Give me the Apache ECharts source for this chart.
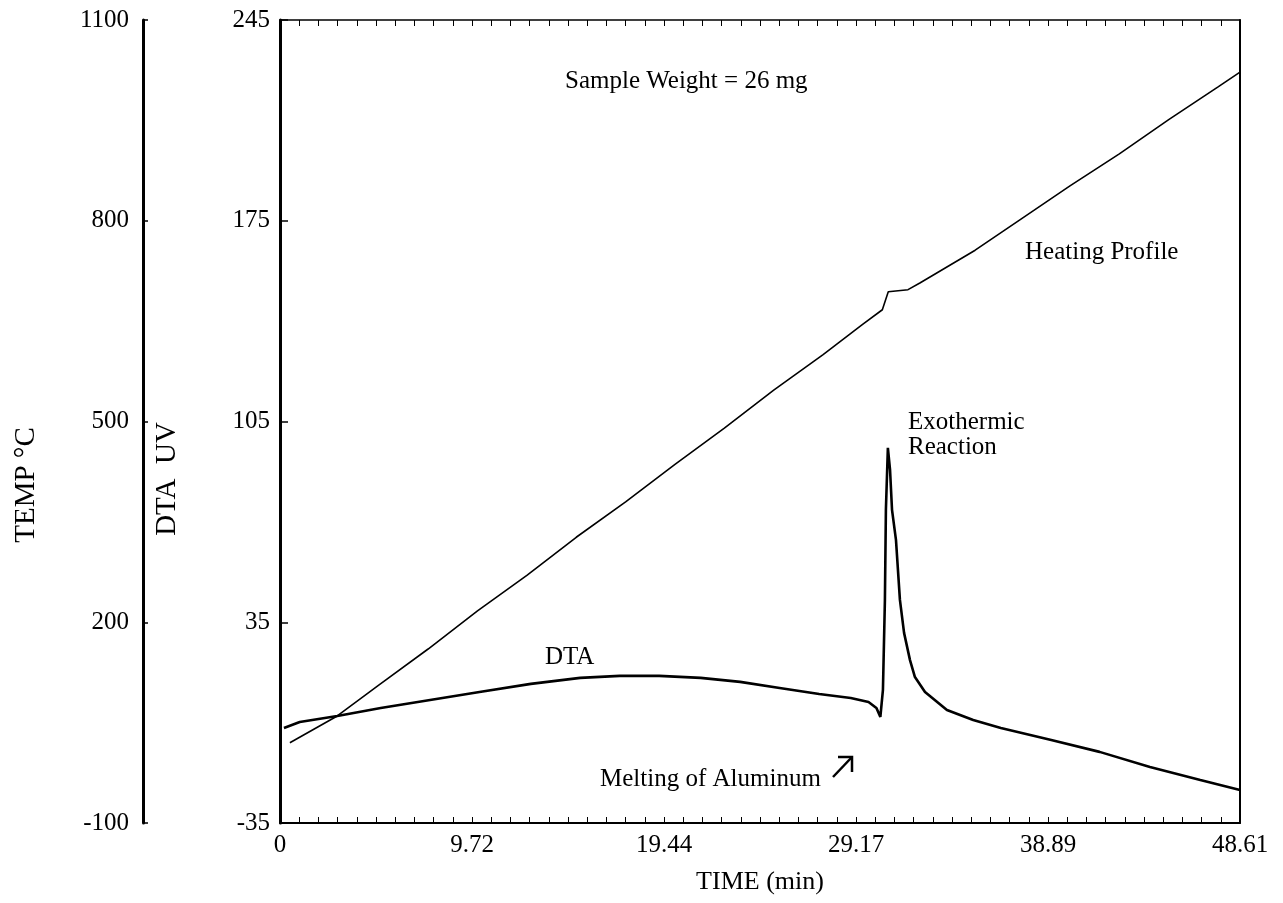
<!DOCTYPE html>
<html>
<head>
<meta charset="utf-8">
<script src="https://cdn.jsdelivr.net/npm/echarts@6/dist/echarts.min.js"></script>
<style>
  html, body { margin: 0; padding: 0; background: #fff; }
  #chart { width: 1283px; height: 903px; }
</style>
</head>
<body>
<div id="chart"></div>
<script>
// x tick labels (min)
var timeTicks = ['0', '9.72', '19.44', '29.17', '38.89', '48.61'];

// DTA trace: time (min) / signal (uV)
var dtaTime = [0.2, 1.0, 2.9, 5.1, 7.6, 10.1, 12.7, 15.2, 17.2, 19.2, 21.3, 23.3, 25.3, 27.3, 28.9, 29.8, 30.2, 30.4,
    30.53, 30.63, 30.68, 30.78, 30.89, 30.99, 31.19, 31.39, 31.6, 31.9, 32.15, 32.66, 33.77, 35.1, 36.5, 39.0, 41.5, 44.05, 46.6, 48.61];
var dtaValue = [-1.9, 0.2, 2.3, 5.1, 7.9, 10.7, 13.5, 15.6, 16.3, 16.3, 15.6, 14.2, 12.1, 10.0, 8.6, 7.2, 5.1, 2.0,
    11.4, 42.8, 74.2, 95.8, 88.1, 74.2, 63.7, 42.8, 31.3, 21.8, 15.9, 10.7, 4.4, 0.9, -1.9, -6.0, -10.2, -15.5, -20.0, -23.5];

// heating profile: time (min) / temperature (C)
var heatTime = [0.5, 2.9, 5.0, 7.5, 10.0, 12.5, 15.0, 17.5, 20.0, 22.5, 25.0, 27.5, 29.5, 30.5, 30.8, 31.8, 32.4, 35.2,
    37.5, 40.0, 42.5, 45.0, 47.5, 48.61];
var heatTemp = [20, 60, 106, 160, 217, 270, 327, 380, 436, 490, 547, 600, 645, 667, 694, 697, 707, 756,
    802, 852, 900, 951, 1000, 1022];

function pairs(xs, ys) {
    var out = [];
    for (var i = 0; i < xs.length; i++) out.push([xs[i], ys[i]]);
    return out;
}

var FONT = 'Liberation Serif';
var chart = echarts.init(document.getElementById('chart'));

var tickAxis = {
    min: 0,
    max: 48.61,
    interval: 9.722,
    axisTick: { show: true, inside: true, length: 6, lineStyle: { color: '#000', width: 1 } },
    minorTick: { show: true, splitNumber: 10, length: 6, lineStyle: { color: '#000', width: 1 } },
    splitLine: { show: false },
    minorSplitLine: { show: false }
};

function plain(v) { return String(v); }

var option = {
    backgroundColor: '#fff',
    animation: false,
    textStyle: { fontFamily: FONT, color: '#000' },
    grid: { left: 280, right: 43, top: 20, bottom: 80 },
    xAxis: [
        Object.assign({}, tickAxis, {
            type: 'value',
            position: 'bottom',
            axisLine: { show: true, onZero: false, lineStyle: { color: '#000', width: 2 } },
            axisLabel: {
                show: true, color: '#000', fontFamily: FONT, fontSize: 25, margin: 10,
                formatter: function (v) { return timeTicks[Math.round(v / 9.722)]; }
            },
            name: 'TIME (min)',
            nameLocation: 'middle',
            nameGap: 46,
            nameTextStyle: { color: '#000', fontFamily: FONT, fontSize: 26 }
        }),
        Object.assign({}, tickAxis, {
            type: 'value',
            position: 'top',
            axisLine: { show: true, onZero: false, lineStyle: { color: '#000', width: 1.5 } },
            axisLabel: { show: false }
        })
    ],
    yAxis: [
        {
            type: 'value',
            position: 'left',
            min: -35,
            max: 245,
            interval: 70,
            axisLine: { show: true, onZero: false, lineStyle: { color: '#000', width: 3 } },
            axisTick: { show: true, inside: true, length: 8, lineStyle: { color: '#000', width: 1.5 } },
            axisLabel: { color: '#000', fontFamily: FONT, fontSize: 25, margin: 10, formatter: plain },
            splitLine: { show: false }
        },
        {
            type: 'value',
            position: 'left',
            offset: 137,
            min: -100,
            max: 1100,
            interval: 300,
            axisLine: { show: true, onZero: false, lineStyle: { color: '#000', width: 3 } },
            axisTick: { show: true, inside: true, length: 5, lineStyle: { color: '#000', width: 1.5 } },
            axisLabel: { color: '#000', fontFamily: FONT, fontSize: 25, margin: 14, formatter: plain },
            splitLine: { show: false }
        },
        {
            type: 'value',
            position: 'right',
            min: -35,
            max: 245,
            interval: 70,
            axisLine: { show: true, onZero: false, lineStyle: { color: '#000', width: 2 } },
            axisTick: { show: false },
            axisLabel: { show: false },
            splitLine: { show: false }
        }
    ],
    series: [
        {
            name: 'Heating Profile',
            type: 'line',
            yAxisIndex: 1,
            data: pairs(heatTime, heatTemp),
            showSymbol: false,
            lineStyle: { color: '#000', width: 1.6 }
        },
        {
            name: 'DTA',
            type: 'line',
            yAxisIndex: 0,
            data: pairs(dtaTime, dtaValue),
            showSymbol: false,
            lineStyle: { color: '#000', width: 2.6 }
        }
    ],
    graphic: [
        { type: 'text', x: 26, y: 485, rotation: Math.PI / 2,
          style: { text: 'TEMP °C', font: '29px "Liberation Serif"', fill: '#000', align: 'center', verticalAlign: 'middle' } },
        { type: 'text', x: 167, y: 479, rotation: Math.PI / 2,
          style: { text: 'DTA  UV', font: '29px "Liberation Serif"', fill: '#000', align: 'center', verticalAlign: 'middle' } },
        { type: 'text', x: 565, y: 81,
          style: { text: 'Sample Weight = 26 mg', font: '25px "Liberation Serif"', fill: '#000', verticalAlign: 'middle' } },
        { type: 'text', x: 1025, y: 252,
          style: { text: 'Heating Profile', font: '25px "Liberation Serif"', fill: '#000', verticalAlign: 'middle' } },
        { type: 'text', x: 908, y: 422,
          style: { text: 'Exothermic', font: '25px "Liberation Serif"', fill: '#000', verticalAlign: 'middle' } },
        { type: 'text', x: 908, y: 447,
          style: { text: 'Reaction', font: '25px "Liberation Serif"', fill: '#000', verticalAlign: 'middle' } },
        { type: 'text', x: 545, y: 657,
          style: { text: 'DTA', font: '25px "Liberation Serif"', fill: '#000', verticalAlign: 'middle' } },
        { type: 'text', x: 600, y: 779,
          style: { text: 'Melting of Aluminum', font: '25px "Liberation Serif"', fill: '#000', verticalAlign: 'middle' } },
        { type: 'polyline', shape: { points: [[838, 757], [852, 757], [852, 772]] },
          style: { stroke: '#000', lineWidth: 2.5, fill: null } },
        { type: 'line', shape: { x1: 833, y1: 777, x2: 852, y2: 757 },
          style: { stroke: '#000', lineWidth: 2.5 } }
    ]
};

chart.setOption(option);
</script>
</body>
</html>
